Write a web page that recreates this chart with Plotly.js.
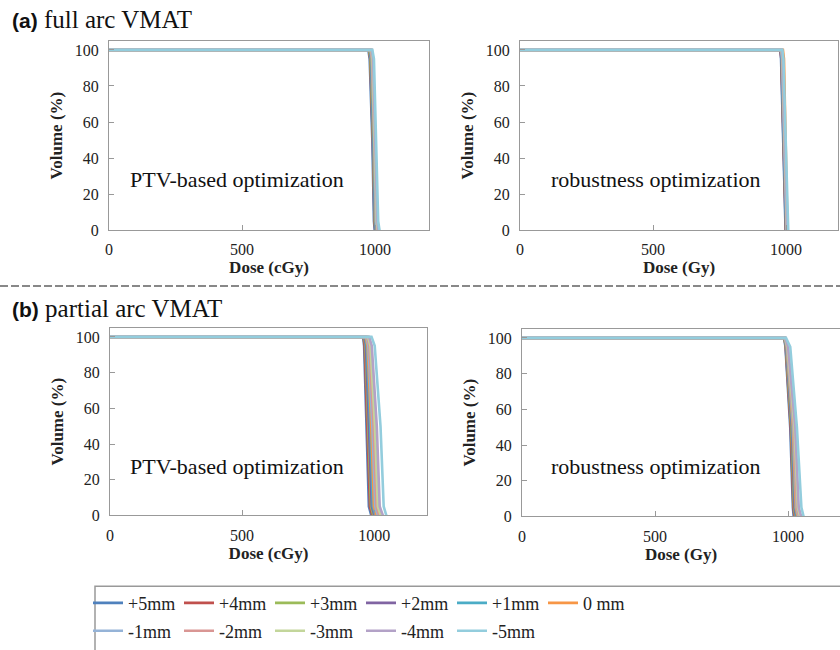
<!DOCTYPE html>
<html><head><meta charset="utf-8">
<script src="https://cdn.plot.ly/plotly-3.0.1.min.js"></script>
<style>html,body{margin:0;padding:0;background:#fff}#chart{width:840px;height:650px}</style>
</head><body><div id="chart"></div>
<script>
// Series (setup shifts)
const seriesNames = ['+5mm','+4mm','+3mm','+2mm','+1mm','0 mm','-1mm','-2mm','-3mm','-4mm','-5mm'];
const seriesColors = ['#4F81BD','#C0504D','#9BBB59','#8064A2','#4BACC6','#F79646','#95B3D7','#D99694','#C3D69B','#B3A2C7','#93CDDD'];
// Volume (%) levels at which the dose values below are read
const volumeLevels = [100, 100, 95, 50, 5, 0];
// Dose at each volume level (first dose is always 0), one row per series
const fullArcPTV = [
  [975, 980, 990, 996, 999],
  [977, 982, 992, 998, 1001],
  [978, 983, 993, 999, 1002],
  [980, 985, 994, 1000, 1003],
  [981, 986, 995, 1001, 1004],
  [983, 988, 997, 1003, 1006],
  [984, 989, 998, 1004, 1008],
  [985, 990, 999, 1006, 1009],
  [987, 991, 1000, 1007, 1011],
  [988, 993, 1002, 1009, 1013],
  [990, 996, 1005, 1012, 1017]
];
const fullArcRobust = [
  [978, 981, 989, 996, 998],
  [979, 982, 990, 997, 999],
  [980, 983, 991, 998, 1000],
  [979, 983, 991, 998, 1000],
  [981, 984, 992, 999, 1001],
  [988, 992, 998, 1003, 1005],
  [982, 985, 993, 1000, 1002],
  [983, 986, 994, 1001, 1003],
  [983, 987, 995, 1002, 1004],
  [984, 988, 996, 1003, 1005],
  [986, 990, 998, 1005, 1008]
];
const partialArcPTV = [
  [958, 962, 971, 980, 989],
  [960, 964, 974, 984, 993],
  [962, 967, 978, 988, 997],
  [964, 969, 981, 991, 1001],
  [966, 972, 985, 995, 1005],
  [968, 975, 989, 999, 1009],
  [971, 978, 993, 1004, 1014],
  [974, 982, 998, 1009, 1019],
  [977, 986, 1003, 1014, 1025],
  [981, 991, 1010, 1021, 1033],
  [990, 1002, 1024, 1036, 1046]
];
const partialArcRobust = [
  [985, 990, 1008, 1018, 1021],
  [986, 991, 1010, 1020, 1024],
  [986, 992, 1012, 1022, 1027],
  [987, 993, 1014, 1024, 1030],
  [987, 994, 1016, 1027, 1033],
  [988, 995, 1018, 1029, 1036],
  [988, 996, 1020, 1032, 1039],
  [989, 997, 1022, 1034, 1042],
  [989, 998, 1024, 1037, 1045],
  [990, 1000, 1027, 1040, 1049],
  [992, 1008, 1033, 1050, 1058]
];
const doseTicks = [0, 500, 1000];
const volumeTicks = [0, 20, 40, 60, 80, 100];

const panels = [
  {data: fullArcPTV, xa: 'x', ya: 'y', legend: true},
  {data: fullArcRobust, xa: 'x2', ya: 'y2'},
  {data: partialArcPTV, xa: 'x3', ya: 'y3'},
  {data: partialArcRobust, xa: 'x4', ya: 'y4'}
];
const traces = [];
panels.forEach(p => {
  p.data.forEach((row, i) => {
    traces.push({
      type: 'scatter', mode: 'lines',
      x: [0].concat(row), y: volumeLevels,
      xaxis: p.xa, yaxis: p.ya,
      name: seriesNames[i],
      line: {color: seriesColors[i], width: 2.6},
      showlegend: !!p.legend,
      legend: i < 6 ? 'legend' : 'legend2',
      hoverinfo: 'skip'
    });
  });
});

const W = 840, H = 650;
const serif = '"Liberation Serif", "Times New Roman", serif';
function xAxis(l, r, max, title) {
  return {domain: [l / W, r / W], range: [0, max], tickvals: doseTicks,
    ticks: 'inside', ticklen: 5, tickcolor: '#999', showgrid: false, zeroline: false,
    showline: true, mirror: true, linecolor: '#999', linewidth: 1,
    tickfont: {family: serif, size: 16, color: '#222'}, ticklabelstandoff: 5,
    title: {text: '<b>' + title + '</b>', font: {family: serif, size: 17, color: '#222'}, standoff: 3}};
}
function yAxis(t, b, anchor) {
  return {domain: [1 - b / H, 1 - t / H], range: [0, 105], tickvals: volumeTicks, anchor: anchor,
    ticks: 'inside', ticklen: 5, tickcolor: '#999', showgrid: false, zeroline: false,
    showline: true, mirror: true, linecolor: '#999', linewidth: 1,
    tickfont: {family: serif, size: 16, color: '#222'}, ticklabelstandoff: 6,
    title: {text: '<b>Volume (%)</b>', font: {family: serif, size: 17, color: '#222'}, standoff: 7}};
}
const legendBase = {orientation: 'h', entrywidth: 46, entrywidthmode: 'pixels', itemwidth: 30,
  font: {family: serif, size: 18, color: '#222'}, bgcolor: 'rgba(0,0,0,0)', borderwidth: 0,
  xanchor: 'left', yanchor: 'middle', x: 88 / W, itemclick: false, itemdoubleclick: false};

const layout = {
  width: W, height: H, margin: {l: 0, r: 0, t: 0, b: 0},
  paper_bgcolor: '#fff', plot_bgcolor: '#fff', showlegend: true,
  xaxis: Object.assign(xAxis(109, 429, 1203, 'Dose (cGy)'), {anchor: 'y'}),
  yaxis: yAxis(41, 231, 'x'),
  xaxis2: Object.assign(xAxis(520, 838, 1195, 'Dose (Gy)'), {anchor: 'y2'}),
  yaxis2: yAxis(41, 231, 'x2'),
  xaxis3: Object.assign(xAxis(110, 427, 1200, 'Dose (cGy)'), {anchor: 'y3'}),
  yaxis3: yAxis(329, 517, 'x3'),
  xaxis4: Object.assign(xAxis(522, 840, 1195, 'Dose (Gy)'), {anchor: 'y4'}),
  yaxis4: yAxis(330, 518, 'x4'),
  legend: Object.assign({}, legendBase, {y: 1 - 605 / H}),
  legend2: Object.assign({}, legendBase, {y: 1 - 633 / H}),
  shapes: [
    {type: 'line', xref: 'paper', yref: 'paper', x0: 0, x1: 1, y0: 1 - 287 / H, y1: 1 - 287 / H,
     line: {color: '#888', width: 2, dash: '8px,3px'}},
    {type: 'rect', xref: 'paper', yref: 'paper', x0: 95 / W, x1: 1.01, y0: -0.01, y1: 1 - 588 / H,
     line: {color: '#999', width: 1.5}}
  ],
  annotations: [
    {xref: 'paper', yref: 'paper', x: 10 / W, y: 1 - 20 / H, xanchor: 'left', yanchor: 'middle', showarrow: false,
     text: '<b><span style="font-family:\'Liberation Sans\', Arial, sans-serif;font-size:21px">(a)</span></b> full arc VMAT',
     font: {family: serif, size: 25, color: '#111'}},
    {xref: 'paper', yref: 'paper', x: 10 / W, y: 1 - 309 / H, xanchor: 'left', yanchor: 'middle', showarrow: false,
     text: '<b><span style="font-family:\'Liberation Sans\', Arial, sans-serif;font-size:21px">(b)</span></b> partial arc VMAT',
     font: {family: serif, size: 25, color: '#111'}},
    {xref: 'paper', yref: 'paper', x: 237 / W, y: 1 - 180 / H, xanchor: 'center', yanchor: 'middle', showarrow: false,
     text: 'PTV-based optimization', font: {family: serif, size: 22, color: '#111'}},
    {xref: 'paper', yref: 'paper', x: 656 / W, y: 1 - 180 / H, xanchor: 'center', yanchor: 'middle', showarrow: false,
     text: 'robustness optimization', font: {family: serif, size: 22, color: '#111'}},
    {xref: 'paper', yref: 'paper', x: 237 / W, y: 1 - 468 / H, xanchor: 'center', yanchor: 'middle', showarrow: false,
     text: 'PTV-based optimization', font: {family: serif, size: 22, color: '#111'}},
    {xref: 'paper', yref: 'paper', x: 656 / W, y: 1 - 468 / H, xanchor: 'center', yanchor: 'middle', showarrow: false,
     text: 'robustness optimization', font: {family: serif, size: 22, color: '#111'}}
  ]
};
Plotly.newPlot('chart', traces, layout, {staticPlot: true, displayModeBar: false});
</script></body></html>
